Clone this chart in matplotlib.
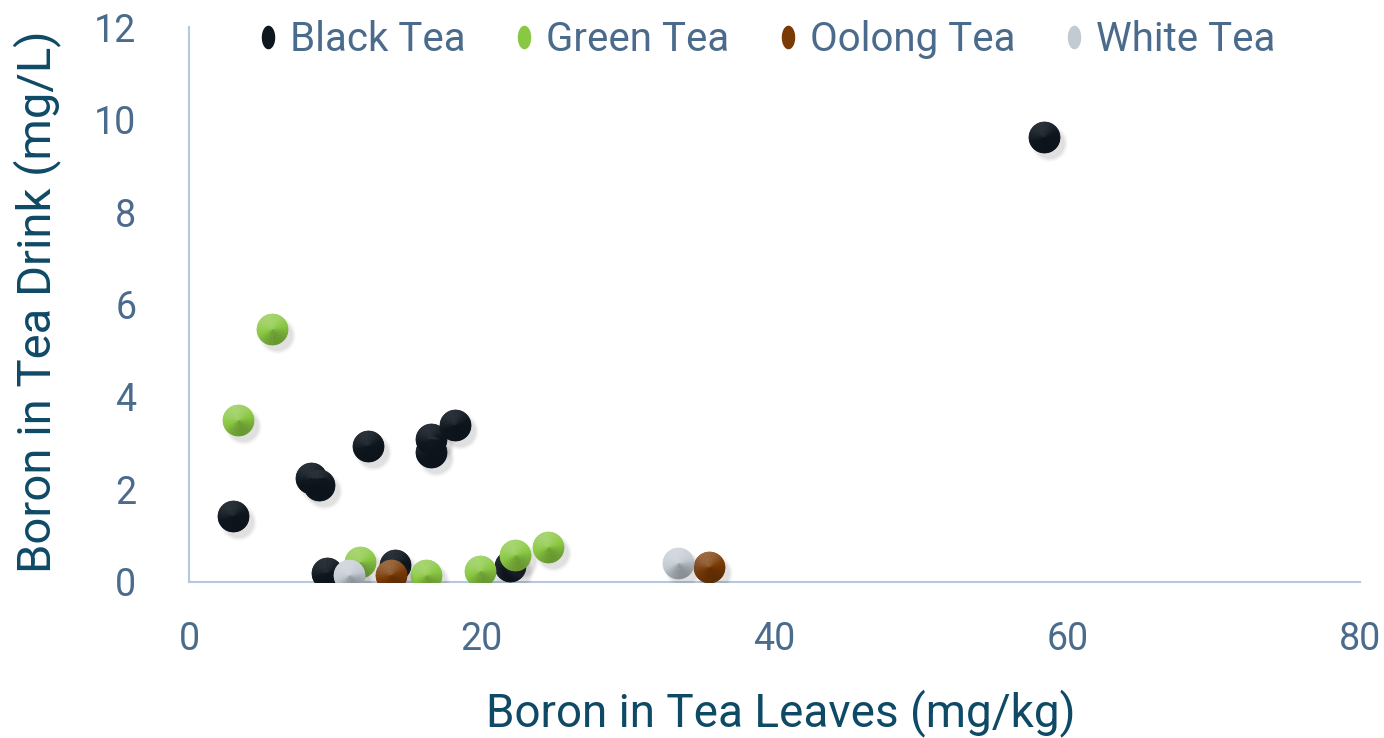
import numpy as np
import matplotlib.pyplot as plt
import matplotlib.transforms as mtransforms
from matplotlib.path import Path
from matplotlib.lines import Line2D

plt.rcParams['font.family'] = ['Roboto', 'DejaVu Sans']

# data
black_x = [3.0, 8.3, 8.9, 12.2, 16.5, 16.5, 18.2, 58.4, 9.4, 14.1, 21.9]
black_y = [1.43, 2.25, 2.1, 2.94, 3.1, 2.8, 3.4, 9.62, 0.2, 0.37, 0.35]
green_x = [5.67, 3.35, 11.7, 16.2, 19.9, 22.3, 24.5]
green_y = [5.47, 3.5, 0.44, 0.15, 0.24, 0.58, 0.76]
oolong_x = [13.8, 35.5]
oolong_y = [0.15, 0.32]
white_x = [10.9, 33.4]
white_y = [0.15, 0.41]

series_names = ['Black Tea', 'Green Tea', 'Oolong Tea', 'White Tea']
series_x = [black_x, green_x, oolong_x, white_x]
series_y = [black_y, green_y, oolong_y, white_y]
base_colors = ['#0e161e', '#8ac843', '#7a3a05', '#c2cad2']
shade_amount = [0.12, 0.25, 0.25, 0.3]

x_ticks = [0, 20, 40, 60, 80]
y_ticks = [0, 2, 4, 6, 8, 10, 12]

tick_color = '#4b6b8c'
title_color = '#0e4a66'
axis_color = '#b6c8dc'


def wedge_path(a0, a1, n=8):
    # the lone moveto at (1, 1) keeps matplotlib from rescaling the wedge
    t = np.linspace(np.radians(a0), np.radians(a1), n)
    verts = [(1, 1), (0, 0)] + [(np.cos(a), np.sin(a)) for a in t] + [(0, 0)]
    codes = [Path.MOVETO, Path.MOVETO] + [Path.LINETO] * n + [Path.CLOSEPOLY]
    return Path(verts, codes)


def shade(color, angle, amount):
    # conical shading: lighter towards the top, darker bottom right
    rgb = np.array(plt.matplotlib.colors.to_rgb(color))
    k = amount * np.cos(np.radians(angle - 110))
    if k > 0:
        rgb = rgb + (1 - rgb) * k
    else:
        rgb = rgb * (1 + k)
    return np.clip(rgb, 0, 1)


fig = plt.figure(figsize=(13.84, 7.38), dpi=100)
ax = fig.add_axes([0.1366, 0.2114, 0.8461, 0.752])

msize = 520
n_wedges = 36
step = 360 / n_wedges

for i, (xs, ys, c) in enumerate(zip(series_x, series_y, base_colors)):
    z = 3 + i * 2
    # soft shadow
    for dx, dy, s, a in [(5, -6, 1.35, 0.04), (5, -6, 1.15, 0.06), (5, -6, 0.95, 0.09)]:
        off = mtransforms.offset_copy(ax.transData, fig=fig, x=dx, y=dy, units='dots')
        ax.scatter(xs, ys, s=msize * s, color='#555555', alpha=a, linewidths=0,
                   transform=off, zorder=z)
    ax.scatter(xs, ys, s=msize * 0.97, color=c, linewidths=0, zorder=z + 1)
    for k in range(n_wedges):
        a0 = k * step
        ax.scatter(xs, ys, s=msize, marker=wedge_path(a0, a0 + step + 1),
                   color=shade(c, a0 + step / 2, shade_amount[i]),
                   linewidths=0, zorder=z + 1)

ax.set_xlim(0, 80)
ax.set_ylim(0, 12)
ax.set_xticks(x_ticks)
ax.set_yticks(y_ticks)
ax.tick_params(length=0, labelsize=27, labelcolor=tick_color)
ax.tick_params(axis='x', pad=28)
ax.tick_params(axis='y', pad=38)
for s in ['top', 'right']:
    ax.spines[s].set_visible(False)
for s in ['left', 'bottom']:
    ax.spines[s].set_color(axis_color)
    ax.spines[s].set_linewidth(1.5)

ax.set_xlabel('Boron in Tea Leaves (mg/kg)', fontsize=33, color=title_color, va='center')
ax.xaxis.set_label_coords(0.5055, -0.236)
ax.set_ylabel('Boron in Tea Drink (mg/L)', fontsize=34, color=title_color, va='center')
ax.yaxis.set_label_coords(-0.13, 0.505)

# legend with tall oval markers
t = np.linspace(0, 2 * np.pi, 60)
oval = Path(np.column_stack([0.57 * np.cos(t), np.sin(t)]))
handles = [Line2D([], [], linestyle='none', marker=oval, markersize=17,
                  markerfacecolor=c, markeredgewidth=0) for c in base_colors]
leg = fig.legend(handles, series_names, loc='center', bbox_to_anchor=(0.554, 0.946),
                 ncol=4, frameon=False, fontsize=29, labelcolor=tick_color,
                 handlelength=0.5, handletextpad=0.3, columnspacing=1.2)

fig.savefig('out.png', dpi=100)
